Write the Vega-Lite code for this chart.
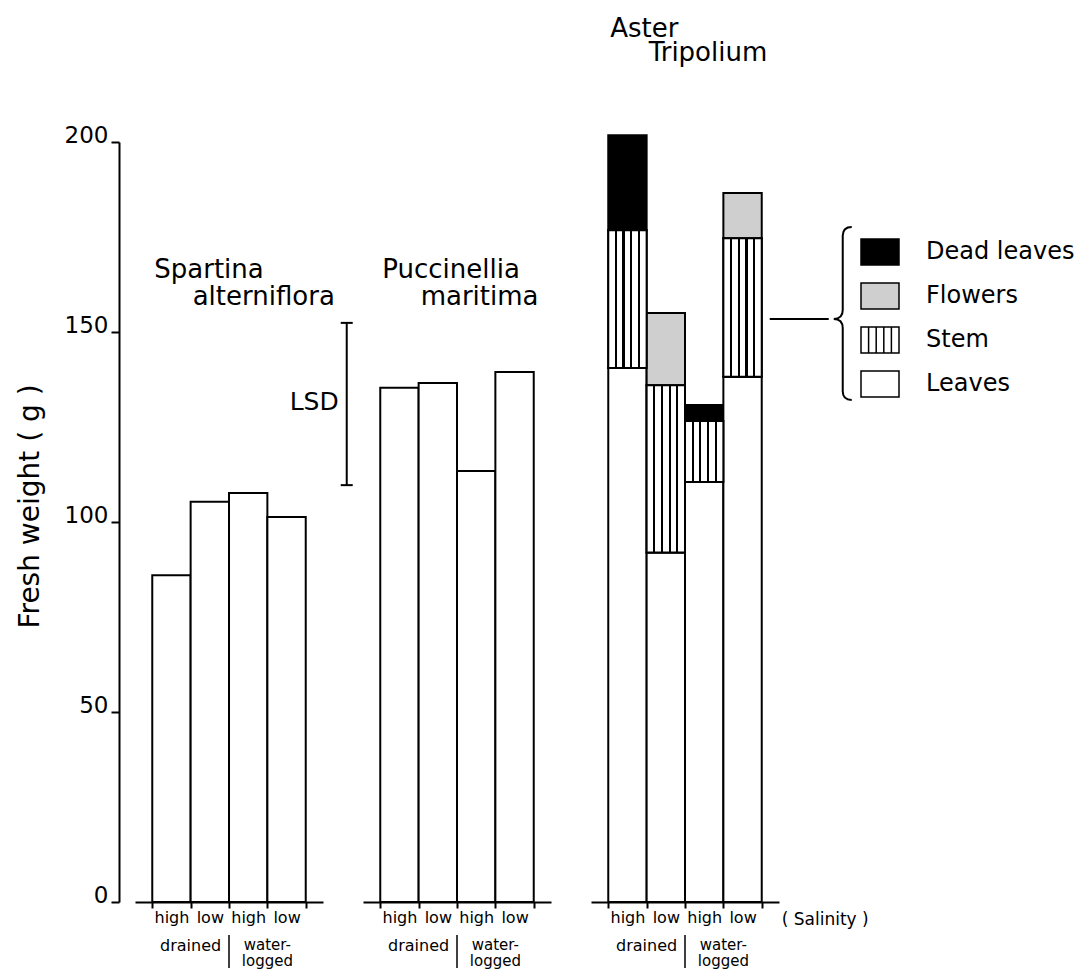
{
  "$schema": "https://vega.github.io/schema/vega-lite/v6.json",
  "padding": {"left": 16, "top": 16, "right": 0, "bottom": 0},
  "bounds": "flush",
  "config": {
    "font": "DejaVu Sans",
    "view": {"stroke": null},
    "axis": {"grid": false, "domainColor": "black", "tickColor": "black", "labelColor": "black", "titleColor": "black"},
    "text": {"color": "black"}
  },
  "data": {"values": [
    {"kind": "bar", "species": "Spartina alterniflora", "cat": "high drained", "part": "Total", "value": 86},
    {"kind": "bar", "species": "Spartina alterniflora", "cat": "low drained", "part": "Total", "value": 105.3},
    {"kind": "bar", "species": "Spartina alterniflora", "cat": "high waterlogged", "part": "Total", "value": 107.6},
    {"kind": "bar", "species": "Spartina alterniflora", "cat": "low waterlogged", "part": "Total", "value": 101.3},
    {"kind": "bar", "species": "Puccinellia maritima", "cat": "high drained", "part": "Total", "value": 135.3},
    {"kind": "bar", "species": "Puccinellia maritima", "cat": "low drained", "part": "Total", "value": 136.6},
    {"kind": "bar", "species": "Puccinellia maritima", "cat": "high waterlogged", "part": "Total", "value": 113.4},
    {"kind": "bar", "species": "Puccinellia maritima", "cat": "low waterlogged", "part": "Total", "value": 139.5},
    {"kind": "bar", "species": "Aster Tripolium", "cat": "high drained", "part": "Leaves", "value": 140.5},
    {"kind": "bar", "species": "Aster Tripolium", "cat": "high drained", "part": "Stem", "value": 36.3},
    {"kind": "bar", "species": "Aster Tripolium", "cat": "high drained", "part": "Dead leaves", "value": 25.0},
    {"kind": "bar", "species": "Aster Tripolium", "cat": "low drained", "part": "Leaves", "value": 92},
    {"kind": "bar", "species": "Aster Tripolium", "cat": "low drained", "part": "Stem", "value": 44},
    {"kind": "bar", "species": "Aster Tripolium", "cat": "low drained", "part": "Flowers", "value": 19},
    {"kind": "bar", "species": "Aster Tripolium", "cat": "high waterlogged", "part": "Leaves", "value": 110.5},
    {"kind": "bar", "species": "Aster Tripolium", "cat": "high waterlogged", "part": "Stem", "value": 16.1},
    {"kind": "bar", "species": "Aster Tripolium", "cat": "high waterlogged", "part": "Dead leaves", "value": 4.2},
    {"kind": "bar", "species": "Aster Tripolium", "cat": "low waterlogged", "part": "Leaves", "value": 138.2},
    {"kind": "bar", "species": "Aster Tripolium", "cat": "low waterlogged", "part": "Stem", "value": 36.5},
    {"kind": "bar", "species": "Aster Tripolium", "cat": "low waterlogged", "part": "Flowers", "value": 11.9},
    {"kind": "species", "species": "Spartina alterniflora", "line1": "Spartina", "line2": "alterniflora"},
    {"kind": "species", "species": "Puccinellia maritima", "line1": "Puccinellia", "line2": "maritima"},
    {"kind": "species", "species": "Aster Tripolium", "line1": "Aster", "line2": "Tripolium"},
    {"kind": "lsd", "species": "Spartina alterniflora", "lo": 109.7, "hi": 152.4}
  ]},
  "facet": {
    "column": {
      "field": "species", "type": "nominal",
      "sort": ["Spartina alterniflora", "Puccinellia maritima", "Aster Tripolium"],
      "header": {"title": null, "labels": false, "labelPadding": 0, "titlePadding": 0}
    }
  },
  "spacing": 40,
  "spec": {
    "width": 188,
    "height": 760,
    "layer": [
      {
        "transform": [
          {"filter": "datum.kind == 'bar'"},
          {"calculate": "indexof(['Total','Leaves','Stem','Flowers','Dead leaves'], datum.part)", "as": "ord"},
          {"stack": "value", "groupby": ["species", "cat"], "sort": [{"field": "ord", "order": "ascending"}], "as": ["v0", "v1"]}
        ],
        "mark": {"type": "bar", "stroke": "black", "strokeWidth": 2},
        "encoding": {
          "x": {
            "field": "cat", "type": "nominal",
            "scale": {"domain": ["high drained", "low drained", "high waterlogged", "low waterlogged"], "paddingInner": 0, "paddingOuter": 0.45},
            "axis": {
              "title": null, "labelExpr": "split(datum.label, ' ')[0]", "labelAngle": 0,
              "labelFontSize": 16, "labelPadding": 1, "tickBand": "extent", "tickSize": 6,
              "tickWidth": 2, "domainWidth": 2
            }
          },
          "y": {
            "field": "v0", "type": "quantitative",
            "scale": {"domain": [0, 200], "nice": false},
            "axis": {
              "title": "Fresh weight ( g )", "values": [0, 50, 100, 150, 200], "offset": 16,
              "tickSize": 8, "tickWidth": 2, "domainWidth": 2, "labelFontSize": 23,
              "labelBaseline": "alphabetic", "labelPadding": 3, "titleFontSize": 28,
              "titleFontWeight": "normal", "titlePadding": 20, "titleY": 364
            }
          },
          "y2": {"field": "v1"},
          "fill": {
            "field": "part", "type": "nominal",
            "scale": {
              "domain": ["Dead leaves", "Flowers", "Stem", "Leaves", "Total"],
              "range": ["black", "#cfcfcf", "white", "white", "white"]
            },
            "legend": {
              "title": null, "orient": "none", "legendX": 725, "legendY": 90,
              "values": ["Dead leaves", "Flowers", "Stem", "Leaves"],
              "symbolSize": 1444, "symbolOpacity": 1,
              "labelFontSize": 24, "labelOffset": 26, "rowPadding": 8, "labelColor": "black", "padding": 0
            }
          }
        }
      },
      {
        "transform": [
          {"filter": "datum.kind == 'bar'"},
          {"calculate": "indexof(['Total','Leaves','Stem','Flowers','Dead leaves'], datum.part)", "as": "ord"},
          {"stack": "value", "groupby": ["species", "cat"], "sort": [{"field": "ord", "order": "ascending"}], "as": ["v0", "v1"]},
          {"filter": "datum.part == 'Stem'"}
        ],
        "mark": {
          "type": "bar", "stroke": "black", "strokeWidth": 2,
          "fill": {"gradient": "linear", "x1": 0, "y1": 0, "x2": 1, "y2": 0, "stops": [
            {"offset": 0, "color": "white"}, {"offset": 0.17, "color": "white"},
            {"offset": 0.17, "color": "black"}, {"offset": 0.23, "color": "black"},
            {"offset": 0.23, "color": "white"}, {"offset": 0.37, "color": "white"},
            {"offset": 0.37, "color": "black"}, {"offset": 0.43, "color": "black"},
            {"offset": 0.43, "color": "white"}, {"offset": 0.57, "color": "white"},
            {"offset": 0.57, "color": "black"}, {"offset": 0.63, "color": "black"},
            {"offset": 0.63, "color": "white"}, {"offset": 0.77, "color": "white"},
            {"offset": 0.77, "color": "black"}, {"offset": 0.83, "color": "black"},
            {"offset": 0.83, "color": "white"}, {"offset": 1, "color": "white"}
          ]}
        },
        "encoding": {
          "x": {"field": "cat", "type": "nominal"},
          "y": {"field": "v0", "type": "quantitative"},
          "y2": {"field": "v1"}
        }
      },
      {
        "transform": [{"filter": "datum.kind == 'legendonly'"}],
        "mark": {"type": "point", "filled": true, "stroke": "black", "strokeWidth": 2, "opacity": 1, "size": 1444},
        "encoding": {
          "x": {"field": "cat", "type": "nominal"},
          "y": {"field": "value", "type": "quantitative"},
          "fill": {
            "field": "part", "type": "nominal",
            "legend": {
              "title": null, "orient": "none", "legendX": 725, "legendY": 90,
              "values": ["Dead leaves", "Flowers", "Stem", "Leaves"],
              "symbolSize": 1444, "symbolOpacity": 1,
              "labelFontSize": 24, "labelOffset": 26, "rowPadding": 8, "labelColor": "black", "padding": 0
            }
          },
          "shape": {
            "field": "part", "type": "nominal",
            "scale": {
              "domain": ["Dead leaves", "Flowers", "Stem", "Leaves", "Total"],
              "range": [
                "M-1,-0.684H1V0.684H-1Z",
                "M-1,-0.684H1V0.684H-1Z",
                "M-1,-0.684H1V0.684H-1Z M-0.6,-0.684V0.684 M-0.2,-0.684V0.684 M0.2,-0.684V0.684 M0.6,-0.684V0.684",
                "M-1,-0.684H1V0.684H-1Z",
                "M-1,-0.684H1V0.684H-1Z"
              ]
            },
            "legend": {
              "title": null, "orient": "none", "legendX": 725, "legendY": 90,
              "values": ["Dead leaves", "Flowers", "Stem", "Leaves"],
              "symbolSize": 1444, "symbolOpacity": 1,
              "labelFontSize": 24, "labelOffset": 26, "rowPadding": 8, "labelColor": "black", "padding": 0
            }
          }
        }
      },
      {
        "transform": [{"filter": "datum.kind == 'species' && datum.species != 'Aster Tripolium'"}],
        "mark": {"type": "text", "align": "left", "baseline": "alphabetic", "fontSize": 26, "dx": 2},
        "encoding": {"x": {"datum": "high drained", "bandPosition": 0}, "y": {"datum": 164.2}, "text": {"field": "line1"}}
      },
      {
        "transform": [{"filter": "datum.kind == 'species' && datum.species != 'Aster Tripolium'"}],
        "mark": {"type": "text", "align": "left", "baseline": "alphabetic", "fontSize": 26, "dx": 2},
        "encoding": {"x": {"datum": "low drained", "bandPosition": 0}, "y": {"datum": 157.1}, "text": {"field": "line2"}}
      },
      {
        "transform": [{"filter": "datum.kind == 'species' && datum.species == 'Aster Tripolium'"}],
        "mark": {"type": "text", "align": "left", "baseline": "alphabetic", "fontSize": 26, "dx": 2},
        "encoding": {"x": {"datum": "high drained", "bandPosition": 0}, "y": {"datum": 227.6}, "text": {"field": "line1"}}
      },
      {
        "transform": [{"filter": "datum.kind == 'species' && datum.species == 'Aster Tripolium'"}],
        "mark": {"type": "text", "align": "left", "baseline": "alphabetic", "fontSize": 26, "dx": 2},
        "encoding": {"x": {"datum": "low drained", "bandPosition": 0}, "y": {"datum": 221.3}, "text": {"field": "line2"}}
      },
      {
        "transform": [{"filter": "datum.kind == 'species'"}],
        "mark": {"type": "text", "align": "center", "baseline": "alphabetic", "fontSize": 16, "text": "drained"},
        "encoding": {"x": {"datum": "low drained", "bandPosition": 0}, "y": {"datum": -12.9}}
      },
      {
        "transform": [{"filter": "datum.kind == 'species'"}],
        "mark": {"type": "text", "align": "center", "baseline": "alphabetic", "fontSize": 15, "lineHeight": 16, "text": ["water-", "logged"]},
        "encoding": {"x": {"datum": "low waterlogged", "bandPosition": 0}, "y": {"datum": -12.7}}
      },
      {
        "transform": [{"filter": "datum.kind == 'species'"}],
        "mark": {"type": "rule", "strokeWidth": 1.5, "color": "black"},
        "encoding": {"x": {"datum": "high waterlogged", "bandPosition": 0}, "y": {"datum": -8.7}, "y2": {"datum": -17.4}}
      },
      {
        "transform": [{"filter": "datum.kind == 'species' && datum.species == 'Aster Tripolium'"}],
        "mark": {"type": "text", "align": "left", "baseline": "alphabetic", "fontSize": 17, "dx": 20, "text": "(  Salinity  )"},
        "encoding": {"x": {"datum": "low waterlogged", "bandPosition": 1}, "y": {"datum": -6.0}}
      },
      {
        "transform": [{"filter": "datum.kind == 'lsd'"}],
        "mark": {"type": "rule", "strokeWidth": 2, "color": "black", "xOffset": 41},
        "encoding": {"x": {"datum": "low waterlogged", "bandPosition": 1}, "y": {"field": "lo", "type": "quantitative"}, "y2": {"field": "hi"}}
      },
      {
        "transform": [{"filter": "datum.kind == 'lsd'"}],
        "mark": {"type": "rule", "strokeWidth": 2, "color": "black", "xOffset": 35, "x2Offset": 47},
        "encoding": {"x": {"datum": "low waterlogged", "bandPosition": 1}, "x2": {"datum": "low waterlogged", "bandPosition": 1}, "y": {"field": "hi", "type": "quantitative"}}
      },
      {
        "transform": [{"filter": "datum.kind == 'lsd'"}],
        "mark": {"type": "rule", "strokeWidth": 2, "color": "black", "xOffset": 35, "x2Offset": 47},
        "encoding": {"x": {"datum": "low waterlogged", "bandPosition": 1}, "x2": {"datum": "low waterlogged", "bandPosition": 1}, "y": {"field": "lo", "type": "quantitative"}}
      },
      {
        "transform": [{"filter": "datum.kind == 'lsd'"}],
        "mark": {"type": "text", "align": "right", "baseline": "alphabetic", "fontSize": 25, "dx": 33, "text": "LSD"},
        "encoding": {"x": {"datum": "low waterlogged", "bandPosition": 1}, "y": {"datum": 129.5}}
      },
      {
        "transform": [{"filter": "datum.kind == 'species' && datum.species == 'Aster Tripolium'"}],
        "mark": {"type": "rule", "strokeWidth": 2, "color": "black", "xOffset": 8, "x2Offset": 67},
        "encoding": {"x": {"datum": "low waterlogged", "bandPosition": 1}, "x2": {"datum": "low waterlogged", "bandPosition": 1}, "y": {"datum": 153.4}}
      },
      {
        "transform": [{"filter": "datum.kind == 'species' && datum.species == 'Aster Tripolium'"}],
        "mark": {
          "type": "point", "filled": false, "stroke": "black", "strokeWidth": 2, "opacity": 1,
          "size": 29929, "xOffset": 81,
          "shape": "M0.104,-1 Q0,-1 0,-0.9 L0,-0.04 Q0,0.064 -0.104,0.064 Q0,0.064 0,0.17 L0,0.9 Q0,1 0.104,1"
        },
        "encoding": {"x": {"datum": "low waterlogged", "bandPosition": 1}, "y": {"datum": 154.9}}
      }
    ]
  }
}
